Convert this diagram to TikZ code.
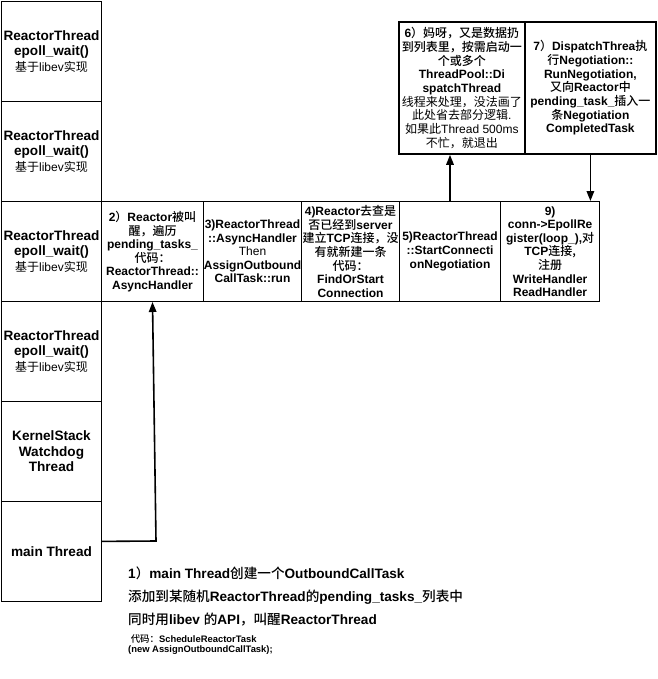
\documentclass[tikz,border=0pt]{standalone}
\usepackage{fontspec}
\setmainfont{Liberation Sans}
\newfontfamily\zhf{Noto Sans CJK SC}[BoldFont={Noto Sans CJK SC Medium}]
\usetikzlibrary{arrows.meta,calc}
\newcommand\zh[1]{{\zhf #1}}
\newcommand\rg[1]{{\mdseries #1}}
\newcommand\subl{{\fontsize{12}{14}\selectfont\mdseries\zh{基于}libev\zh{实现}}}
\begin{document}
\begin{tikzpicture}[x=1pt,y=-1pt,
  lbox/.style={draw, line width=1pt, anchor=north west, minimum width=100pt, minimum height=100pt,
    inner sep=0pt, align=center, font=\fontsize{13.6}{15.5}\selectfont\bfseries},
  rbox/.style={draw, line width=1pt, anchor=north west, minimum height=100pt,
    inner sep=0pt, align=center, font=\fontsize{12}{13.6}\selectfont\bfseries},
  tbox/.style={draw, line width=1.8pt, anchor=north west, minimum height=132pt,
    inner sep=0pt, align=center, font=\fontsize{12}{13.7}\selectfont\bfseries},
  note/.style={anchor=west, inner sep=0pt, font=\fontsize{13.6}{15}\selectfont\bfseries},
  code/.style={anchor=north west, inner sep=0pt, align=left, font=\fontsize{9.4}{10}\selectfont\bfseries},
  arr/.style={line width=1.6pt, -{Triangle[length=10pt,width=7.5pt]}}
]
\useasboundingbox (0,0) rectangle (657,679);

% left column
\node[lbox] (r1) at (1,1) {ReactorThread\\epoll\_wait()\\\subl};
\node[lbox] (r2) at (1,101) {ReactorThread\\epoll\_wait()\\\subl};
\node[lbox] (r3) at (1,201) {ReactorThread\\epoll\_wait()\\\subl};
\node[lbox] (r4) at (1,301) {ReactorThread\\epoll\_wait()\\\subl};
\node[lbox] (ks) at (1,401) {KernelStack\\Watchdog\\Thread};
\node[lbox] (main) at (1,501) {main Thread};

% row of steps
\node[rbox, minimum width=102pt] (b2) at (101,201)
  {2\zh{）}Reactor\zh{被叫}\\\zh{醒，遍历}\\pending\_tasks\_\\\zh{代码：}\\ReactorThread::\\AsyncHandler};
\node[rbox, minimum width=98pt] (b3) at (203,201)
  {3)ReactorThread\\::AsyncHandler\\\rg{Then}\\AssignOutbound\\CallTask::run};
\node[rbox, minimum width=98pt] (b4) at (301,201)
  {4)Reactor\zh{去查是}\\\zh{否已经到}server\\\zh{建立}TCP\zh{连接，没}\\\zh{有就新建一条}\\\zh{代码：}\\FindOrStart\\Connection};
\node[rbox, minimum width=101pt] (b5) at (399,201)
  {5)ReactorThread\\::StartConnecti\\onNegotiation};
\node[rbox, minimum width=99pt, line width=1.3pt] (b9) at (500,201)
  {9)\\conn-\textgreater EpollRe\\gister(loop\_),\zh{对}\\TCP\zh{连接,}\\\zh{注册}\\WriteHandler\\ReadHandler};

% top boxes
\node[tbox, minimum width=126pt] (b6) at (398,21)
  {6\zh{）妈呀，又是数据扔}\\\zh{到列表里，按需启动一}\\\zh{个或多个}\\ThreadPool::Di\\spatchThread\\\rg{\zh{线程来处理，没法画了}}\\\rg{\zh{此处省去部分逻辑}.}\\\rg{\zh{如果此}Thread 500ms}\\\rg{\zh{不忙，就退出}}};
\node[tbox, minimum width=131pt] (b7) at (524,21)
  {7\zh{）}DispatchThrea\zh{执}\\\zh{行}Negotiation::\\RunNegotiation,\\\zh{又向}Reactor\zh{中}\\pending\_task\_\zh{插入一}\\\zh{条}Negotiation\\CompletedTask};

% connectors
\coordinate (m1) at ($(main.north east)!0.4!(main.south east)$);
\coordinate (m2) at (156,541);
\draw[arr] (m1) -- (m2) -- (b2.south);
\draw[arr] (b5.north) -- (b5.north |- b6.south);
\draw[arr] (b7.south) -- (b7.south |- b9.north);

% notes
\node[note] (n1) at (128,573) {1\zh{）}main Thread\zh{创建一个}OutboundCallTask};
\node[note] (n2) at (128,597) {\zh{添加到某随机}ReactorThread\zh{的}pending\_tasks\_\zh{列表中}};
\node[note] (n3) at (128,620) {\zh{同时用}libev \zh{的}API\zh{，叫醒}ReactorThread};
\node[code] (n4) at (128,634) {\ \zh{代码：}ScheduleReactorTask\\(new AssignOutboundCallTask);};
\end{tikzpicture}
\end{document}
